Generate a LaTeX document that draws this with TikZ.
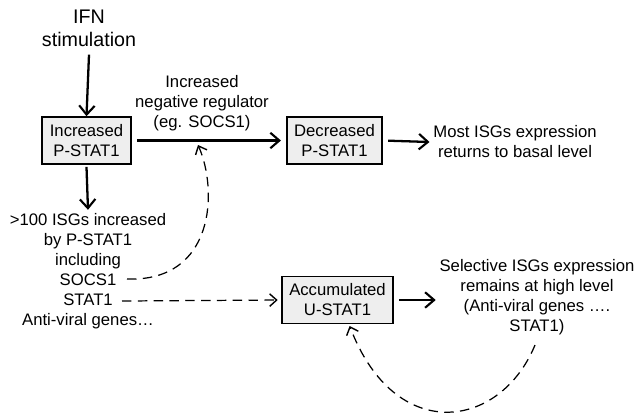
\documentclass[tikz,border=0pt]{standalone}
\usepackage{fontspec}
\setmainfont{Liberation Sans}
\usetikzlibrary{arrows.meta}

\def\boxheight{0.94cm}

\tikzset{
  statbox/.style={draw, line width=0.9pt, fill=gray!13, minimum height=\boxheight,
    inner sep=0pt, align=center},
  plain/.style={align=center, inner sep=2pt},
  flow/.style={line width=1.3pt, -{Straight Barb[length=1.8mm,width=3.1mm,line width=1.2pt]}},
  loop/.style={line width=0.7pt, dash pattern=on 5.4pt off 3.6pt,
    -{Straight Barb[length=1.4mm,width=2.5mm,line width=0.8pt]}}
}

\begin{document}
\begin{tikzpicture}[x=0.02cm, y=-0.02cm,
    every node/.style={font=\fontsize{9.5}{11.4}\selectfont}]
    \useasboundingbox (0,0) rectangle (635,417);

    % boxes
    \node[statbox, minimum width=1.78cm] (inc) at (86.5,140.5) {Increased\\P-STAT1};
    \node[statbox, minimum width=1.9cm] (dec) at (334.5,140.5) {Decreased\\P-STAT1};
    \node[statbox, minimum width=2.22cm] (acc) at (337.5,300) {Accumulated\\U-STAT1};

    % texts
    \node[plain, font=\fontsize{11.2}{13}\selectfont] (ifn) at (89,28.5) {IFN\\stimulation};
    \node[plain] (reg) at (202,103) {Increased\\negative regulator\\(eg. SOCS1)};
    \node[plain] (most) at (515,142) {Most ISGs expression\\returns to basal level};
    \node[plain] (isg) at (88,271.5) {>100 ISGs increased\\by P-STAT1\\including\\SOCS1\\STAT1\\Anti-viral genes\dots};
    \node[plain] (sel) at (537,297) {Selective ISGs expression\\remains at high level\\(Anti-viral genes \dots.\\STAT1)};

    \coordinate (socs) at (127,279);
    \coordinate (stat) at (122,301);
    \coordinate (hit) at (198,145);
    \coordinate (selend) at (535,345);

    % solid arrows
    \draw[flow] (ifn.south) ++(0,4) -- (inc.north);
    \draw[flow] (inc.south) ++(0,2) -- (isg.north);
    \draw[flow, shorten <=3pt, shorten >=3pt] (inc.east) -- (dec.west);
    \draw[flow, shorten <=3pt] (dec.east) -- (most.west);
    \draw[flow, shorten <=3pt] (acc.east) -- (sel.west |- acc.east);

    % dashed feedback
    \draw[loop] (socs) .. controls (215,282) and (218,190) .. (hit);
    \draw[loop, shorten >=2pt] (stat) -- (acc.west);
    \draw[loop, shorten >=1pt] (selend) .. controls (500,430) and (395,445) .. (acc.south -| 349,0);
\end{tikzpicture}
\end{document}
